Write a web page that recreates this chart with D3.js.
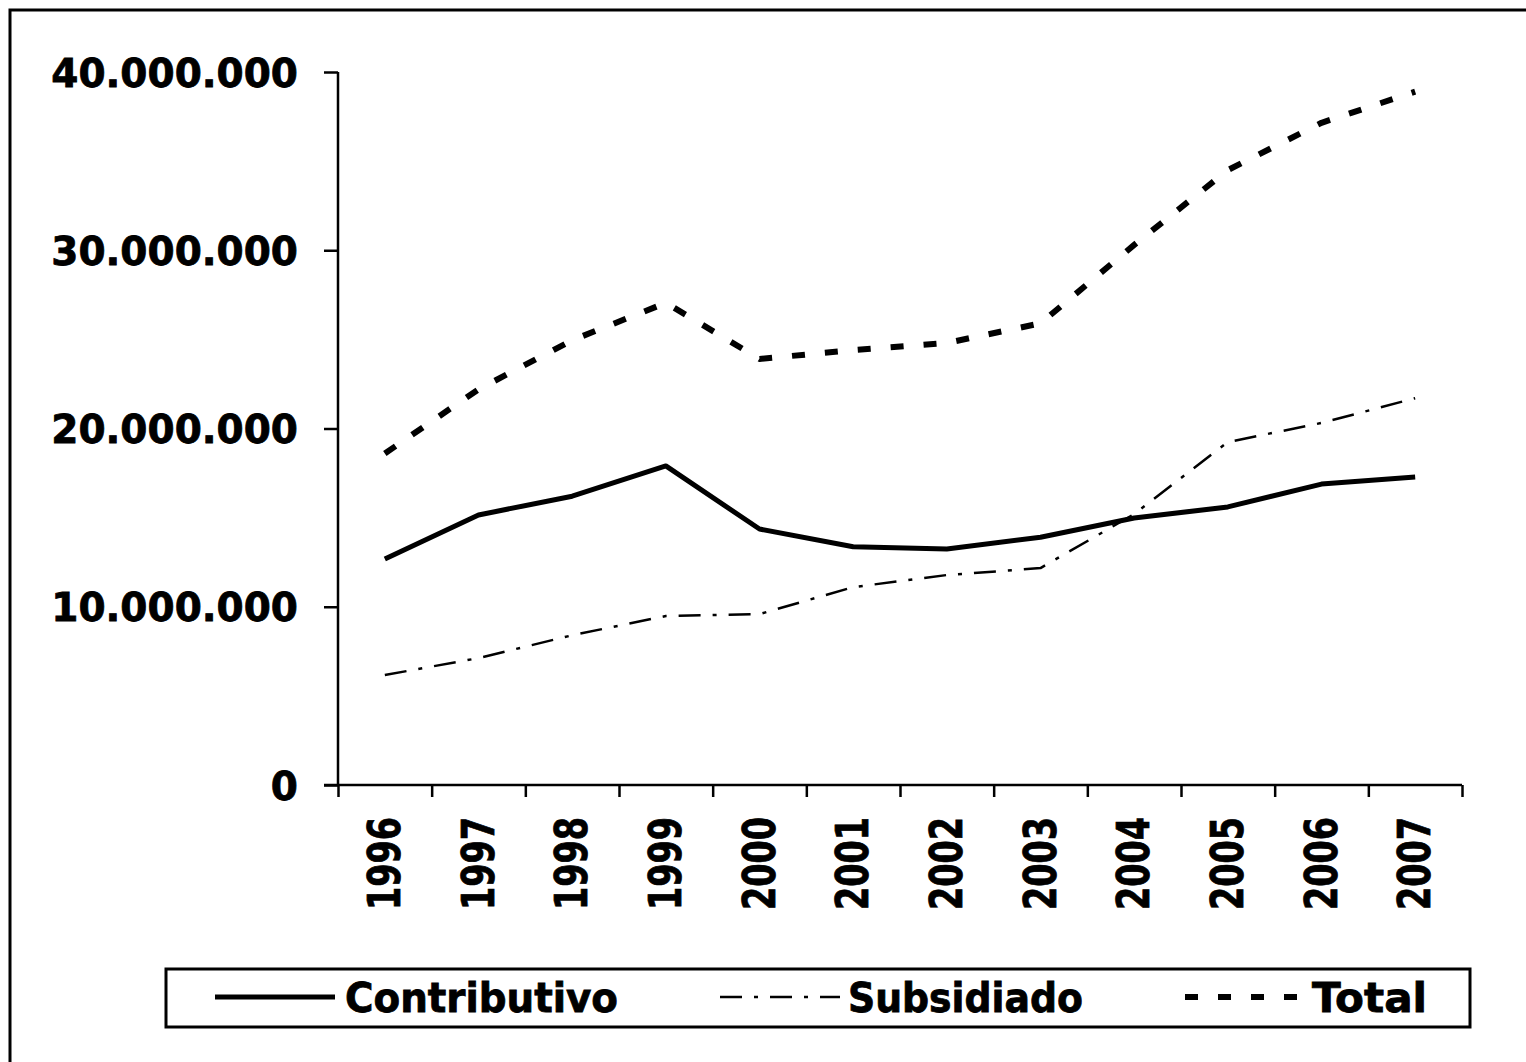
<!DOCTYPE html>
<html>
<head>
<meta charset="utf-8">
<script src="https://cdn.jsdelivr.net/npm/d3@7"></script>
<style>
  body { margin: 0; background: #fff; }
  svg { display: block; }
  text { font-family: "DejaVu Sans", Verdana, sans-serif; font-weight: bold; fill: #000; stroke: #000; stroke-width: 0.8px; }
</style>
</head>
<body>
<div id="chart"></div>
<script>
// afiliados por regimen, 1996-2007
var years = ["1996", "1997", "1998", "1999", "2000", "2001", "2002", "2003", "2004", "2005", "2006", "2007"];
var contributivo = [12.68, 15.15, 16.2, 17.9, 14.36, 13.37, 13.24, 13.9, 14.98, 15.6, 16.88, 17.28];
var subsidiado = [6.17, 7.12, 8.4, 9.48, 9.59, 11.1, 11.78, 12.17, 15.2, 19.24, 20.31, 21.7];
var total = [18.6, 22.2, 24.95, 27.05, 23.9, 24.4, 24.8, 25.9, 30.3, 34.5, 37.15, 38.9];
var yTicks = [0, 10000000, 20000000, 30000000, 40000000];

var series = [
  { name: "Contributivo", values: contributivo, width: 5, dash: null },
  { name: "Subsidiado", values: subsidiado, width: 2.5, dash: "22,12,4,12" },
  { name: "Total", values: total, width: 6, dash: "13,20" }
];

var W = 1526, H = 1062;
var plotLeft = 338, plotRight = 1462, plotTop = 72, plotBottom = 785;

var svg = d3.select("#chart").append("svg")
  .attr("width", W)
  .attr("height", H);

// outer frame
svg.append("rect")
  .attr("x", 10).attr("y", 10)
  .attr("width", W + 20).attr("height", H + 20)
  .attr("fill", "none")
  .attr("stroke", "#000")
  .attr("stroke-width", 3);

var x = d3.scaleBand().domain(years).range([plotLeft, plotRight]);
var xEdge = d3.scaleLinear().domain([0, years.length]).range([plotLeft, plotRight]);
var y = d3.scaleLinear().domain([0, 40000000]).range([plotBottom, plotTop]);

var loc = d3.formatLocale({ decimal: ",", thousands: ".", grouping: [3], currency: ["$", ""] });
var fmt = loc.format(",d");

// y axis
var yAxis = svg.append("g")
  .attr("transform", "translate(" + plotLeft + ",0)")
  .call(d3.axisLeft(y).tickValues(yTicks).tickSize(14).tickPadding(26).tickFormat(fmt));
yAxis.selectAll("path, line").attr("stroke", "#000").attr("stroke-width", 2.5);
yAxis.select(".domain").attr("d", "M0," + plotTop + "V" + plotBottom);
yAxis.selectAll("text")
  .style("font-size", "39px")
  .attr("dy", "0.36em");

// x axis (ticks between categories)
var xAxis = svg.append("g")
  .attr("transform", "translate(0," + plotBottom + ")")
  .call(d3.axisBottom(xEdge).tickValues(d3.range(years.length + 1)).tickSize(12).tickFormat(""));
xAxis.selectAll("path, line").attr("stroke", "#000").attr("stroke-width", 2.5);
xAxis.select(".domain").attr("d", "M" + (plotLeft - 14) + ",0H" + plotRight);

svg.append("g").selectAll("text")
  .data(years)
  .enter().append("text")
  .attr("transform", function(d) {
    return "translate(" + (x(d) + x.bandwidth() / 2 + 15) + ",817) rotate(-90)";
  })
  .attr("text-anchor", "end")
  .attr("textLength", 93)
  .attr("lengthAdjust", "spacingAndGlyphs")
  .style("font-size", "44px")
  .text(function(d) { return d; });

// lines
var line = d3.line()
  .x(function(d, i) { return x(years[i]) + x.bandwidth() / 2; })
  .y(function(d) { return y(d * 1000000); });

svg.append("g").selectAll("path")
  .data(series)
  .enter().append("path")
  .attr("d", function(s) { return line(s.values); })
  .attr("fill", "none")
  .attr("stroke", "#000")
  .attr("stroke-width", function(s) { return s.width; })
  .attr("stroke-linejoin", "round")
  .attr("stroke-dasharray", function(s) { return s.dash; });

// legend
svg.append("rect")
  .attr("x", 166).attr("y", 969)
  .attr("width", 1304).attr("height", 58)
  .attr("fill", "#fff")
  .attr("stroke", "#000")
  .attr("stroke-width", 3);

var legendPos = [
  { lx: 215, tx: 345, tw: 273 },
  { lx: 720, tx: 848, tw: 235 },
  { lx: 1185, tx: 1312, tw: 115 }
];

var lg = svg.append("g").selectAll("g")
  .data(series)
  .enter().append("g");

lg.append("line")
  .attr("x1", function(s, i) { return legendPos[i].lx; })
  .attr("x2", function(s, i) { return legendPos[i].lx + 120; })
  .attr("y1", 997).attr("y2", 997)
  .attr("stroke", "#000")
  .attr("stroke-width", function(s) { return s.width; })
  .attr("stroke-dasharray", function(s) { return s.dash; });

lg.append("text")
  .attr("x", function(s, i) { return legendPos[i].tx; })
  .attr("y", 1012)
  .attr("textLength", function(s, i) { return legendPos[i].tw; })
  .attr("lengthAdjust", "spacingAndGlyphs")
  .style("font-size", "40px")
  .text(function(s) { return s.name; });
</script>
</body>
</html>
